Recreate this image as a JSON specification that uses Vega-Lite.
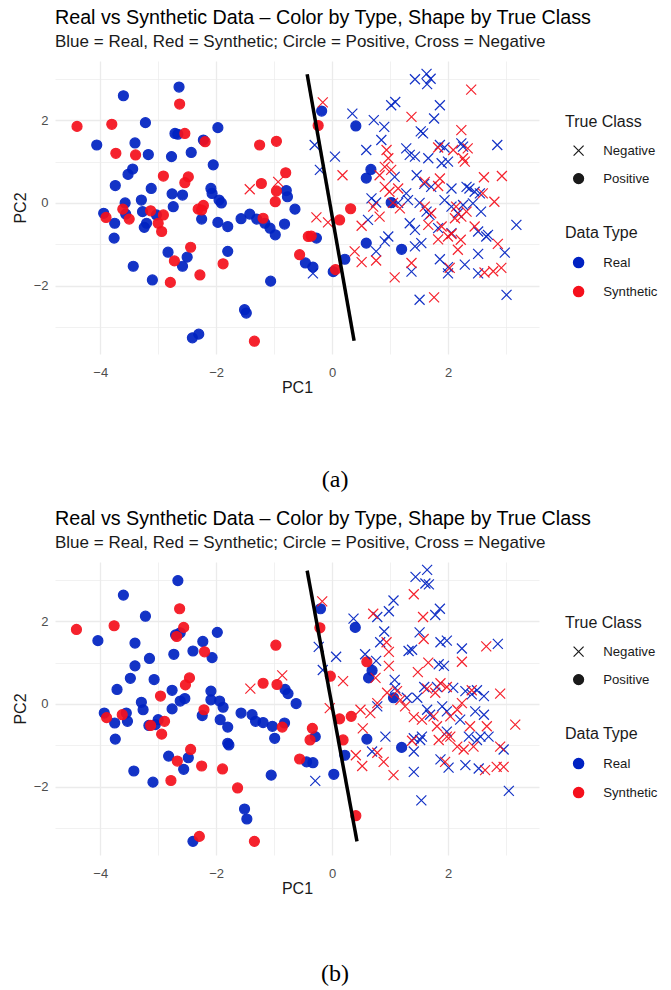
{
"$schema":"https://vega.github.io/schema/vega-lite/v6.json",
"padding":{"left":12,"top":8,"right":0,"bottom":0},
"config":{"view":{"stroke":null},"font":"Liberation Sans",
"axis":{"domain":false,"ticks":false,"format":".0f","labelFont":"Liberation Sans","labelFontSize":13,"labelColor":"#4d4d4d","titleFont":"Liberation Sans","titleFontSize":16,"titleFontWeight":"normal","titleColor":"#1a1a1a","gridColor":"#ebebeb"},
"axisX":{"labelPadding":12,"titlePadding":0},
"axisY":{"labelPadding":7,"titlePadding":5},
"legend":{"titleFont":"Liberation Sans","titleFontSize":16,"titleFontWeight":"normal","titleColor":"#1a1a1a","labelFont":"Liberation Sans","labelFontSize":13.2,"labelColor":"#1a1a1a"}},
"datasets":{
"a":[
{"x":-2.64,"y":2.8,"t":"Real","c":"Positive"},{"x":-3.6,"y":2.59,"t":"Real","c":"Positive"},{"x":-3.22,"y":1.94,"t":"Real","c":"Positive"},{"x":-4.06,"y":1.4,"t":"Real","c":"Positive"},{"x":-3.4,"y":1.45,"t":"Real","c":"Positive"},{"x":-3.17,"y":1.17,"t":"Real","c":"Positive"},{"x":-2.71,"y":1.68,"t":"Real","c":"Positive"},{"x":-2.66,"y":1.66,"t":"Real","c":"Positive"},{"x":-2.43,"y":1.22,"t":"Real","c":"Positive"},{"x":-2.77,"y":1.12,"t":"Real","c":"Positive"},{"x":-3.44,"y":0.82,"t":"Real","c":"Positive"},{"x":-3.52,"y":0.69,"t":"Real","c":"Positive"},{"x":-3.74,"y":0.42,"t":"Real","c":"Positive"},{"x":-3.12,"y":0.35,"t":"Real","c":"Positive"},{"x":-2.76,"y":0.22,"t":"Real","c":"Positive"},{"x":-2.58,"y":0.19,"t":"Real","c":"Positive"},{"x":-3.29,"y":0.07,"t":"Real","c":"Positive"},{"x":-3.57,"y":0.0,"t":"Real","c":"Positive"},{"x":-2.74,"y":-0.09,"t":"Real","c":"Positive"},{"x":-3.94,"y":-0.25,"t":"Real","c":"Positive"},{"x":-3.56,"y":-0.27,"t":"Real","c":"Positive"},{"x":-3.75,"y":-0.49,"t":"Real","c":"Positive"},{"x":-3.27,"y":-0.21,"t":"Real","c":"Positive"},{"x":-3.03,"y":-0.29,"t":"Real","c":"Positive"},{"x":-3.2,"y":-0.49,"t":"Real","c":"Positive"},{"x":-3.24,"y":-0.59,"t":"Real","c":"Positive"},{"x":-3.76,"y":-0.85,"t":"Real","c":"Positive"},
{"x":-0.18,"y":2.22,"t":"Real","c":"Positive"},{"x":0.41,"y":1.86,"t":"Real","c":"Positive"},{"x":-1.97,"y":1.82,"t":"Real","c":"Positive"},{"x":-2.22,"y":1.52,"t":"Real","c":"Positive"},{"x":-2.05,"y":0.92,"t":"Real","c":"Positive"},{"x":-0.79,"y":0.3,"t":"Real","c":"Positive"},{"x":-0.77,"y":0.15,"t":"Real","c":"Positive"},{"x":-0.64,"y":-0.15,"t":"Real","c":"Positive"},{"x":-2.09,"y":0.35,"t":"Real","c":"Positive"},{"x":-2.07,"y":0.23,"t":"Real","c":"Positive"},{"x":-1.95,"y":0.07,"t":"Real","c":"Positive"},{"x":-1.91,"y":0.0,"t":"Real","c":"Positive"},{"x":-2.25,"y":-0.39,"t":"Real","c":"Positive"},{"x":-1.97,"y":-0.47,"t":"Real","c":"Positive"},{"x":-1.8,"y":-0.57,"t":"Real","c":"Positive"},{"x":-1.57,"y":-0.38,"t":"Real","c":"Positive"},{"x":-1.42,"y":-0.27,"t":"Real","c":"Positive"},{"x":-1.3,"y":-0.39,"t":"Real","c":"Positive"},{"x":-1.16,"y":-0.49,"t":"Real","c":"Positive"},{"x":-1.07,"y":-0.61,"t":"Real","c":"Positive"},{"x":-0.98,"y":-0.77,"t":"Real","c":"Positive"},{"x":-0.82,"y":-0.51,"t":"Real","c":"Positive"},{"x":-0.27,"y":-0.85,"t":"Real","c":"Positive"},
{"x":0.67,"y":0.81,"t":"Real","c":"Positive"},{"x":0.59,"y":0.6,"t":"Real","c":"Positive"},{"x":1.02,"y":0.01,"t":"Real","c":"Positive"},{"x":-0.46,"y":-1.45,"t":"Real","c":"Positive"},{"x":-0.33,"y":-1.55,"t":"Real","c":"Positive"},{"x":0.02,"y":-1.66,"t":"Real","c":"Positive"},{"x":0.22,"y":-1.36,"t":"Real","c":"Positive"},{"x":0.59,"y":-0.97,"t":"Real","c":"Positive"},{"x":1.2,"y":-1.12,"t":"Real","c":"Positive"},
{"x":-2.83,"y":-1.19,"t":"Real","c":"Positive"},{"x":-2.5,"y":-1.31,"t":"Real","c":"Positive"},{"x":-2.58,"y":-1.53,"t":"Real","c":"Positive"},{"x":-1.8,"y":-1.17,"t":"Real","c":"Positive"},{"x":-3.43,"y":-1.53,"t":"Real","c":"Positive"},{"x":-3.1,"y":-1.86,"t":"Real","c":"Positive"},{"x":-1.06,"y":-1.89,"t":"Real","c":"Positive"},{"x":-1.51,"y":-2.58,"t":"Real","c":"Positive"},{"x":-1.48,"y":-2.66,"t":"Real","c":"Positive"},{"x":-2.41,"y":-3.26,"t":"Real","c":"Positive"},{"x":-2.3,"y":-3.17,"t":"Real","c":"Positive"},
{"x":-2.63,"y":2.39,"t":"Synthetic","c":"Positive"},{"x":-4.4,"y":1.85,"t":"Synthetic","c":"Positive"},{"x":-3.8,"y":1.9,"t":"Synthetic","c":"Positive"},{"x":-3.73,"y":1.2,"t":"Synthetic","c":"Positive"},{"x":-3.39,"y":1.16,"t":"Synthetic","c":"Positive"},{"x":-2.54,"y":1.68,"t":"Synthetic","c":"Positive"},{"x":-2.91,"y":0.65,"t":"Synthetic","c":"Positive"},{"x":-2.48,"y":0.63,"t":"Synthetic","c":"Positive"},{"x":-2.54,"y":0.49,"t":"Synthetic","c":"Positive"},{"x":-3.9,"y":-0.35,"t":"Synthetic","c":"Positive"},{"x":-3.61,"y":-0.15,"t":"Synthetic","c":"Positive"},{"x":-3.5,"y":-0.39,"t":"Synthetic","c":"Positive"},{"x":-3.13,"y":-0.19,"t":"Synthetic","c":"Positive"},{"x":-2.91,"y":-0.29,"t":"Synthetic","c":"Positive"},{"x":-3.0,"y":-0.49,"t":"Synthetic","c":"Positive"},{"x":-2.94,"y":-0.69,"t":"Synthetic","c":"Positive"},{"x":-2.31,"y":-0.15,"t":"Synthetic","c":"Positive"},
{"x":-0.24,"y":1.87,"t":"Synthetic","c":"Positive"},{"x":-2.19,"y":1.48,"t":"Synthetic","c":"Positive"},{"x":-1.25,"y":1.4,"t":"Synthetic","c":"Positive"},{"x":-0.96,"y":1.49,"t":"Synthetic","c":"Positive"},{"x":-0.8,"y":0.73,"t":"Synthetic","c":"Positive"},{"x":-1.22,"y":0.47,"t":"Synthetic","c":"Positive"},{"x":-0.96,"y":0.29,"t":"Synthetic","c":"Positive"},{"x":-0.98,"y":0.03,"t":"Synthetic","c":"Positive"},{"x":-2.22,"y":-0.06,"t":"Synthetic","c":"Positive"},{"x":-2.25,"y":-0.17,"t":"Synthetic","c":"Positive"},{"x":-1.19,"y":-0.37,"t":"Synthetic","c":"Positive"},{"x":0.32,"y":-0.14,"t":"Synthetic","c":"Positive"},{"x":0.13,"y":-0.41,"t":"Synthetic","c":"Positive"},{"x":-0.41,"y":-0.81,"t":"Synthetic","c":"Positive"},{"x":-0.36,"y":-0.8,"t":"Synthetic","c":"Positive"},{"x":-0.56,"y":-1.25,"t":"Synthetic","c":"Positive"},{"x":0.06,"y":-1.61,"t":"Synthetic","c":"Positive"},
{"x":-2.44,"y":-1.07,"t":"Synthetic","c":"Positive"},{"x":-2.72,"y":-1.4,"t":"Synthetic","c":"Positive"},{"x":-1.88,"y":-1.47,"t":"Synthetic","c":"Positive"},{"x":-2.79,"y":-1.92,"t":"Synthetic","c":"Positive"},{"x":-2.28,"y":-1.74,"t":"Synthetic","c":"Positive"},{"x":-1.34,"y":-3.34,"t":"Synthetic","c":"Positive"},
{"x":0.35,"y":2.16,"t":"Real","c":"Negative"},{"x":-0.3,"y":1.4,"t":"Real","c":"Negative"},{"x":0.05,"y":1.12,"t":"Real","c":"Negative"},{"x":-0.21,"y":0.8,"t":"Real","c":"Negative"},{"x":1.43,"y":2.99,"t":"Real","c":"Negative"},{"x":1.63,"y":3.12,"t":"Real","c":"Negative"},{"x":1.7,"y":3.0,"t":"Real","c":"Negative"},{"x":1.64,"y":2.87,"t":"Real","c":"Negative"},{"x":1.02,"y":2.36,"t":"Real","c":"Negative"},{"x":1.09,"y":2.44,"t":"Real","c":"Negative"},{"x":1.86,"y":2.36,"t":"Real","c":"Negative"},{"x":0.72,"y":2.0,"t":"Real","c":"Negative"},{"x":0.9,"y":1.84,"t":"Real","c":"Negative"},{"x":1.76,"y":2.04,"t":"Real","c":"Negative"},{"x":1.53,"y":1.73,"t":"Real","c":"Negative"},{"x":1.57,"y":1.68,"t":"Real","c":"Negative"},{"x":0.85,"y":1.52,"t":"Real","c":"Negative"},{"x":2.85,"y":1.4,"t":"Real","c":"Negative"},{"x":0.59,"y":1.28,"t":"Real","c":"Negative"},{"x":1.28,"y":1.32,"t":"Real","c":"Negative"},{"x":1.34,"y":1.16,"t":"Real","c":"Negative"},{"x":1.43,"y":1.12,"t":"Real","c":"Negative"},{"x":1.66,"y":1.08,"t":"Real","c":"Negative"},{"x":1.86,"y":1.4,"t":"Real","c":"Negative"},{"x":1.94,"y":1.34,"t":"Real","c":"Negative"},{"x":2.23,"y":1.44,"t":"Real","c":"Negative"},{"x":2.26,"y":1.36,"t":"Real","c":"Negative"},{"x":1.89,"y":0.96,"t":"Real","c":"Negative"},{"x":2.0,"y":1.0,"t":"Real","c":"Negative"},{"x":1.08,"y":0.63,"t":"Real","c":"Negative"},{"x":1.46,"y":0.67,"t":"Real","c":"Negative"},{"x":1.59,"y":0.46,"t":"Real","c":"Negative"},{"x":1.71,"y":0.39,"t":"Real","c":"Negative"},{"x":2.06,"y":0.35,"t":"Real","c":"Negative"},{"x":2.32,"y":0.39,"t":"Real","c":"Negative"},{"x":2.37,"y":0.35,"t":"Real","c":"Negative"},{"x":2.46,"y":0.27,"t":"Real","c":"Negative"},{"x":2.55,"y":0.23,"t":"Real","c":"Negative"},{"x":0.68,"y":0.11,"t":"Real","c":"Negative"},{"x":0.76,"y":0.01,"t":"Real","c":"Negative"},{"x":1.28,"y":0.23,"t":"Real","c":"Negative"},{"x":1.31,"y":0.07,"t":"Real","c":"Negative"},{"x":1.14,"y":0.0,"t":"Real","c":"Negative"},{"x":1.51,"y":0.0,"t":"Real","c":"Negative"},{"x":1.63,"y":-0.21,"t":"Real","c":"Negative"},{"x":1.68,"y":-0.29,"t":"Real","c":"Negative"},{"x":1.94,"y":0.07,"t":"Real","c":"Negative"},{"x":2.06,"y":-0.09,"t":"Real","c":"Negative"},{"x":2.17,"y":-0.25,"t":"Real","c":"Negative"},{"x":2.26,"y":-0.05,"t":"Real","c":"Negative"},{"x":2.43,"y":-0.01,"t":"Real","c":"Negative"},{"x":2.57,"y":-0.21,"t":"Real","c":"Negative"},{"x":3.18,"y":-0.53,"t":"Real","c":"Negative"},{"x":0.62,"y":-0.41,"t":"Real","c":"Negative"},{"x":0.97,"y":-0.81,"t":"Real","c":"Negative"},{"x":1.34,"y":-0.49,"t":"Real","c":"Negative"},{"x":1.43,"y":-0.65,"t":"Real","c":"Negative"},{"x":1.83,"y":-0.61,"t":"Real","c":"Negative"},{"x":2.06,"y":-0.73,"t":"Real","c":"Negative"},{"x":2.52,"y":-0.69,"t":"Real","c":"Negative"},{"x":2.69,"y":-0.77,"t":"Real","c":"Negative"},
{"x":-0.33,"y":-1.7,"t":"Real","c":"Negative"},{"x":0.91,"y":-0.93,"t":"Real","c":"Negative"},{"x":0.76,"y":-1.17,"t":"Real","c":"Negative"},{"x":1.43,"y":-1.05,"t":"Real","c":"Negative"},{"x":1.54,"y":-0.97,"t":"Real","c":"Negative"},{"x":1.37,"y":-1.66,"t":"Real","c":"Negative"},{"x":1.51,"y":-2.34,"t":"Real","c":"Negative"},{"x":1.86,"y":-1.36,"t":"Real","c":"Negative"},{"x":2.0,"y":-1.55,"t":"Real","c":"Negative"},{"x":2.0,"y":-1.7,"t":"Real","c":"Negative"},{"x":2.29,"y":-1.49,"t":"Real","c":"Negative"},{"x":2.52,"y":-1.23,"t":"Real","c":"Negative"},{"x":2.52,"y":-1.7,"t":"Real","c":"Negative"},{"x":2.98,"y":-1.2,"t":"Real","c":"Negative"},{"x":2.66,"y":-0.81,"t":"Real","c":"Negative"},{"x":3.01,"y":-2.22,"t":"Real","c":"Negative"},
{"x":-0.16,"y":2.43,"t":"Synthetic","c":"Negative"},{"x":0.18,"y":0.67,"t":"Synthetic","c":"Negative"},{"x":-1.42,"y":0.33,"t":"Synthetic","c":"Negative"},{"x":-0.93,"y":0.51,"t":"Synthetic","c":"Negative"},{"x":-0.27,"y":-0.35,"t":"Synthetic","c":"Negative"},{"x":-0.07,"y":-0.47,"t":"Synthetic","c":"Negative"},{"x":2.4,"y":2.74,"t":"Synthetic","c":"Negative"},{"x":1.37,"y":2.08,"t":"Synthetic","c":"Negative"},{"x":2.23,"y":1.76,"t":"Synthetic","c":"Negative"},{"x":0.94,"y":1.28,"t":"Synthetic","c":"Negative"},{"x":0.97,"y":1.08,"t":"Synthetic","c":"Negative"},{"x":1.83,"y":1.34,"t":"Synthetic","c":"Negative"},{"x":2.09,"y":1.28,"t":"Synthetic","c":"Negative"},{"x":2.34,"y":1.32,"t":"Synthetic","c":"Negative"},{"x":2.26,"y":1.08,"t":"Synthetic","c":"Negative"},{"x":2.29,"y":1.0,"t":"Synthetic","c":"Negative"},{"x":2.93,"y":0.65,"t":"Synthetic","c":"Negative"},{"x":2.62,"y":0.62,"t":"Synthetic","c":"Negative"},{"x":0.91,"y":0.87,"t":"Synthetic","c":"Negative"},{"x":0.82,"y":0.67,"t":"Synthetic","c":"Negative"},{"x":1.02,"y":0.8,"t":"Synthetic","c":"Negative"},{"x":0.91,"y":0.39,"t":"Synthetic","c":"Negative"},{"x":0.99,"y":0.27,"t":"Synthetic","c":"Negative"},{"x":1.14,"y":0.35,"t":"Synthetic","c":"Negative"},{"x":1.6,"y":0.51,"t":"Synthetic","c":"Negative"},{"x":1.86,"y":0.59,"t":"Synthetic","c":"Negative"},{"x":1.83,"y":0.41,"t":"Synthetic","c":"Negative"},{"x":2.6,"y":0.23,"t":"Synthetic","c":"Negative"},{"x":2.8,"y":0.03,"t":"Synthetic","c":"Negative"},{"x":0.71,"y":-0.09,"t":"Synthetic","c":"Negative"},{"x":1.05,"y":0.0,"t":"Synthetic","c":"Negative"},{"x":1.17,"y":-0.13,"t":"Synthetic","c":"Negative"},{"x":1.6,"y":-0.09,"t":"Synthetic","c":"Negative"},{"x":1.71,"y":-0.25,"t":"Synthetic","c":"Negative"},{"x":2.14,"y":-0.09,"t":"Synthetic","c":"Negative"},{"x":2.23,"y":-0.33,"t":"Synthetic","c":"Negative"},{"x":2.32,"y":-0.21,"t":"Synthetic","c":"Negative"},{"x":0.51,"y":-0.55,"t":"Synthetic","c":"Negative"},{"x":0.82,"y":-0.33,"t":"Synthetic","c":"Negative"},{"x":1.66,"y":-0.53,"t":"Synthetic","c":"Negative"},{"x":1.89,"y":-0.57,"t":"Synthetic","c":"Negative"},{"x":2.0,"y":-0.81,"t":"Synthetic","c":"Negative"},{"x":2.12,"y":-0.37,"t":"Synthetic","c":"Negative"},{"x":2.46,"y":-0.57,"t":"Synthetic","c":"Negative"},
{"x":0.39,"y":-1.17,"t":"Synthetic","c":"Negative"},{"x":0.51,"y":-1.43,"t":"Synthetic","c":"Negative"},{"x":0.76,"y":-1.39,"t":"Synthetic","c":"Negative"},{"x":1.08,"y":-1.8,"t":"Synthetic","c":"Negative"},{"x":1.37,"y":-1.45,"t":"Synthetic","c":"Negative"},{"x":1.76,"y":-2.28,"t":"Synthetic","c":"Negative"},{"x":1.83,"y":-0.88,"t":"Synthetic","c":"Negative"},{"x":2.06,"y":-0.75,"t":"Synthetic","c":"Negative"},{"x":2.17,"y":-1.13,"t":"Synthetic","c":"Negative"},{"x":2.22,"y":-0.89,"t":"Synthetic","c":"Negative"},{"x":2.03,"y":-1.57,"t":"Synthetic","c":"Negative"},{"x":2.63,"y":-1.68,"t":"Synthetic","c":"Negative"},{"x":2.78,"y":-1.65,"t":"Synthetic","c":"Negative"},{"x":2.92,"y":-1.57,"t":"Synthetic","c":"Negative"},{"x":2.86,"y":-0.99,"t":"Synthetic","c":"Negative"}
],
"b":[
{"x":-2.66,"y":2.98,"t":"Real","c":"Positive"},{"x":-3.6,"y":2.63,"t":"Real","c":"Positive"},{"x":-3.22,"y":2.12,"t":"Real","c":"Positive"},{"x":-4.04,"y":1.53,"t":"Real","c":"Positive"},{"x":-3.4,"y":1.47,"t":"Real","c":"Positive"},{"x":-2.7,"y":1.67,"t":"Real","c":"Positive"},{"x":-2.62,"y":1.72,"t":"Real","c":"Positive"},{"x":-2.4,"y":1.28,"t":"Real","c":"Positive"},{"x":-2.73,"y":1.2,"t":"Real","c":"Positive"},{"x":-3.15,"y":1.1,"t":"Real","c":"Positive"},{"x":-3.4,"y":0.92,"t":"Real","c":"Positive"},{"x":-3.48,"y":0.62,"t":"Real","c":"Positive"},{"x":-3.07,"y":0.59,"t":"Real","c":"Positive"},{"x":-3.71,"y":0.35,"t":"Real","c":"Positive"},{"x":-2.76,"y":0.33,"t":"Real","c":"Positive"},{"x":-3.29,"y":0.04,"t":"Real","c":"Positive"},{"x":-3.26,"y":-0.14,"t":"Real","c":"Positive"},{"x":-2.62,"y":0.07,"t":"Real","c":"Positive"},{"x":-2.54,"y":0.13,"t":"Real","c":"Positive"},{"x":-2.76,"y":-0.12,"t":"Real","c":"Positive"},{"x":-3.93,"y":-0.22,"t":"Real","c":"Positive"},{"x":-3.75,"y":-0.46,"t":"Real","c":"Positive"},{"x":-3.55,"y":-0.22,"t":"Real","c":"Positive"},{"x":-3.53,"y":-0.42,"t":"Real","c":"Positive"},{"x":-3.16,"y":-0.52,"t":"Real","c":"Positive"},{"x":-3.05,"y":-0.5,"t":"Real","c":"Positive"},{"x":-3.0,"y":-0.38,"t":"Real","c":"Positive"},{"x":-3.74,"y":-0.85,"t":"Real","c":"Positive"},
{"x":-0.2,"y":2.3,"t":"Real","c":"Positive"},{"x":0.4,"y":1.85,"t":"Real","c":"Positive"},{"x":-1.98,"y":1.73,"t":"Real","c":"Positive"},{"x":-2.23,"y":1.51,"t":"Real","c":"Positive"},{"x":-2.07,"y":1.12,"t":"Real","c":"Positive"},{"x":-0.81,"y":0.35,"t":"Real","c":"Positive"},{"x":-0.76,"y":0.25,"t":"Real","c":"Positive"},{"x":-0.62,"y":0.01,"t":"Real","c":"Positive"},{"x":-2.09,"y":0.31,"t":"Real","c":"Positive"},{"x":-2.09,"y":0.1,"t":"Real","c":"Positive"},{"x":-1.94,"y":0.07,"t":"Real","c":"Positive"},{"x":-1.88,"y":-0.08,"t":"Real","c":"Positive"},{"x":-2.24,"y":-0.28,"t":"Real","c":"Positive"},{"x":-1.93,"y":-0.38,"t":"Real","c":"Positive"},{"x":-1.8,"y":-0.56,"t":"Real","c":"Positive"},{"x":-1.57,"y":-0.22,"t":"Real","c":"Positive"},{"x":-1.38,"y":-0.26,"t":"Real","c":"Positive"},{"x":-1.32,"y":-0.42,"t":"Real","c":"Positive"},{"x":-1.19,"y":-0.45,"t":"Real","c":"Positive"},{"x":-1.03,"y":-0.54,"t":"Real","c":"Positive"},{"x":-0.99,"y":-0.83,"t":"Real","c":"Positive"},{"x":-0.82,"y":-0.46,"t":"Real","c":"Positive"},{"x":-0.29,"y":-0.79,"t":"Real","c":"Positive"},{"x":-1.8,"y":-0.95,"t":"Real","c":"Positive"},
{"x":0.69,"y":0.81,"t":"Real","c":"Positive"},{"x":0.63,"y":0.63,"t":"Real","c":"Positive"},{"x":1.06,"y":0.15,"t":"Real","c":"Positive"},{"x":0.6,"y":-0.85,"t":"Real","c":"Positive"},{"x":0.22,"y":-1.24,"t":"Real","c":"Positive"},{"x":-0.44,"y":-1.4,"t":"Real","c":"Positive"},{"x":-0.33,"y":-1.42,"t":"Real","c":"Positive"},{"x":0.03,"y":-1.7,"t":"Real","c":"Positive"},{"x":1.2,"y":-1.05,"t":"Real","c":"Positive"},
{"x":-1.78,"y":-0.99,"t":"Real","c":"Positive"},{"x":-2.82,"y":-1.26,"t":"Real","c":"Positive"},{"x":-2.48,"y":-1.3,"t":"Real","c":"Positive"},{"x":-2.56,"y":-1.58,"t":"Real","c":"Positive"},{"x":-3.42,"y":-1.62,"t":"Real","c":"Positive"},{"x":-3.09,"y":-1.89,"t":"Real","c":"Positive"},{"x":-1.05,"y":-1.72,"t":"Real","c":"Positive"},{"x":-1.51,"y":-2.54,"t":"Real","c":"Positive"},{"x":-1.47,"y":-2.78,"t":"Real","c":"Positive"},{"x":-2.4,"y":-3.32,"t":"Real","c":"Positive"},
{"x":-2.63,"y":2.3,"t":"Synthetic","c":"Positive"},{"x":-4.41,"y":1.8,"t":"Synthetic","c":"Positive"},{"x":-3.76,"y":1.89,"t":"Synthetic","c":"Positive"},{"x":-2.56,"y":1.85,"t":"Synthetic","c":"Positive"},{"x":-2.68,"y":1.63,"t":"Synthetic","c":"Positive"},{"x":-2.46,"y":0.63,"t":"Synthetic","c":"Positive"},{"x":-2.53,"y":0.46,"t":"Synthetic","c":"Positive"},{"x":-2.96,"y":0.19,"t":"Synthetic","c":"Positive"},{"x":-3.89,"y":-0.33,"t":"Synthetic","c":"Positive"},{"x":-3.62,"y":-0.26,"t":"Synthetic","c":"Positive"},{"x":-3.13,"y":-0.52,"t":"Synthetic","c":"Positive"},{"x":-2.89,"y":-0.42,"t":"Synthetic","c":"Positive"},{"x":-2.94,"y":-0.73,"t":"Synthetic","c":"Positive"},
{"x":-0.21,"y":1.84,"t":"Synthetic","c":"Positive"},{"x":-2.2,"y":1.26,"t":"Synthetic","c":"Positive"},{"x":-0.97,"y":1.42,"t":"Synthetic","c":"Positive"},{"x":-0.03,"y":0.67,"t":"Synthetic","c":"Positive"},{"x":-1.19,"y":0.5,"t":"Synthetic","c":"Positive"},{"x":-0.95,"y":0.47,"t":"Synthetic","c":"Positive"},{"x":-2.21,"y":-0.14,"t":"Synthetic","c":"Positive"},{"x":-0.86,"y":-0.56,"t":"Synthetic","c":"Positive"},{"x":0.13,"y":-0.36,"t":"Synthetic","c":"Positive"},{"x":0.33,"y":-0.3,"t":"Synthetic","c":"Positive"},{"x":-0.34,"y":-0.59,"t":"Synthetic","c":"Positive"},{"x":-0.38,"y":-0.87,"t":"Synthetic","c":"Positive"},{"x":0.19,"y":-0.87,"t":"Synthetic","c":"Positive"},{"x":0.6,"y":1.02,"t":"Synthetic","c":"Positive"},{"x":-0.56,"y":-1.33,"t":"Synthetic","c":"Positive"},{"x":0.41,"y":-2.7,"t":"Synthetic","c":"Positive"},
{"x":-2.44,"y":-1.1,"t":"Synthetic","c":"Positive"},{"x":-2.67,"y":-1.38,"t":"Synthetic","c":"Positive"},{"x":-2.25,"y":-1.5,"t":"Synthetic","c":"Positive"},{"x":-1.89,"y":-1.57,"t":"Synthetic","c":"Positive"},{"x":-2.78,"y":-1.85,"t":"Synthetic","c":"Positive"},{"x":-1.63,"y":-2.03,"t":"Synthetic","c":"Positive"},{"x":-2.29,"y":-3.2,"t":"Synthetic","c":"Positive"},{"x":-1.34,"y":-3.32,"t":"Synthetic","c":"Positive"},
{"x":0.37,"y":2.06,"t":"Real","c":"Negative"},{"x":-0.23,"y":1.38,"t":"Real","c":"Negative"},{"x":0.07,"y":1.14,"t":"Real","c":"Negative"},{"x":-0.16,"y":0.82,"t":"Real","c":"Negative"},{"x":1.44,"y":3.07,"t":"Real","c":"Negative"},{"x":1.64,"y":3.24,"t":"Real","c":"Negative"},{"x":1.67,"y":2.89,"t":"Real","c":"Negative"},{"x":1.61,"y":2.91,"t":"Real","c":"Negative"},{"x":1.06,"y":2.5,"t":"Real","c":"Negative"},{"x":0.98,"y":2.24,"t":"Real","c":"Negative"},{"x":0.78,"y":2.1,"t":"Real","c":"Negative"},{"x":1.86,"y":2.3,"t":"Real","c":"Negative"},{"x":1.78,"y":2.15,"t":"Real","c":"Negative"},{"x":0.9,"y":1.75,"t":"Real","c":"Negative"},{"x":1.51,"y":1.73,"t":"Real","c":"Negative"},{"x":0.83,"y":1.49,"t":"Real","c":"Negative"},{"x":1.38,"y":1.31,"t":"Real","c":"Negative"},{"x":1.32,"y":1.28,"t":"Real","c":"Negative"},{"x":1.87,"y":1.49,"t":"Real","c":"Negative"},{"x":1.98,"y":1.53,"t":"Real","c":"Negative"},{"x":2.24,"y":1.34,"t":"Real","c":"Negative"},{"x":2.86,"y":1.45,"t":"Real","c":"Negative"},{"x":1.84,"y":0.96,"t":"Real","c":"Negative"},{"x":1.93,"y":0.92,"t":"Real","c":"Negative"},{"x":0.57,"y":1.2,"t":"Real","c":"Negative"},{"x":0.76,"y":1.04,"t":"Real","c":"Negative"},{"x":1.08,"y":0.58,"t":"Real","c":"Negative"},{"x":1.09,"y":0.39,"t":"Real","c":"Negative"},{"x":1.29,"y":0.15,"t":"Real","c":"Negative"},{"x":1.59,"y":0.41,"t":"Real","c":"Negative"},{"x":1.81,"y":0.41,"t":"Real","c":"Negative"},{"x":2.09,"y":0.39,"t":"Real","c":"Negative"},{"x":2.3,"y":0.31,"t":"Real","c":"Negative"},{"x":2.41,"y":0.23,"t":"Real","c":"Negative"},{"x":2.5,"y":0.33,"t":"Real","c":"Negative"},{"x":2.62,"y":0.19,"t":"Real","c":"Negative"},{"x":1.47,"y":0.15,"t":"Real","c":"Negative"},{"x":1.64,"y":-0.14,"t":"Real","c":"Negative"},{"x":1.69,"y":-0.26,"t":"Real","c":"Negative"},{"x":1.9,"y":-0.06,"t":"Real","c":"Negative"},{"x":1.98,"y":-0.18,"t":"Real","c":"Negative"},{"x":2.21,"y":-0.38,"t":"Real","c":"Negative"},{"x":2.47,"y":-0.18,"t":"Real","c":"Negative"},{"x":2.62,"y":-0.26,"t":"Real","c":"Negative"},{"x":0.78,"y":-0.06,"t":"Real","c":"Negative"},{"x":0.92,"y":-0.79,"t":"Real","c":"Negative"},{"x":1.41,"y":-0.83,"t":"Real","c":"Negative"},{"x":1.55,"y":-0.79,"t":"Real","c":"Negative"},{"x":1.98,"y":-0.67,"t":"Real","c":"Negative"},{"x":2.36,"y":-0.79,"t":"Real","c":"Negative"},{"x":2.56,"y":-0.79,"t":"Real","c":"Negative"},
{"x":-0.29,"y":-1.86,"t":"Real","c":"Negative"},{"x":0.69,"y":-1.15,"t":"Real","c":"Negative"},{"x":1.41,"y":-1.15,"t":"Real","c":"Negative"},{"x":1.41,"y":-1.64,"t":"Real","c":"Negative"},{"x":1.52,"y":-0.87,"t":"Real","c":"Negative"},{"x":1.54,"y":-2.33,"t":"Real","c":"Negative"},{"x":1.87,"y":-1.34,"t":"Real","c":"Negative"},{"x":2.01,"y":-1.54,"t":"Real","c":"Negative"},{"x":2.3,"y":-1.48,"t":"Real","c":"Negative"},{"x":2.53,"y":-1.56,"t":"Real","c":"Negative"},{"x":2.5,"y":-0.87,"t":"Real","c":"Negative"},{"x":2.7,"y":-0.79,"t":"Real","c":"Negative"},{"x":2.96,"y":-1.1,"t":"Real","c":"Negative"},{"x":3.05,"y":-2.1,"t":"Real","c":"Negative"},
{"x":-0.17,"y":2.48,"t":"Synthetic","c":"Negative"},{"x":0.19,"y":0.55,"t":"Synthetic","c":"Negative"},{"x":-0.86,"y":0.69,"t":"Synthetic","c":"Negative"},{"x":-1.41,"y":0.37,"t":"Synthetic","c":"Negative"},{"x":-0.04,"y":-0.1,"t":"Synthetic","c":"Negative"},{"x":1.41,"y":2.65,"t":"Synthetic","c":"Negative"},{"x":0.71,"y":2.18,"t":"Synthetic","c":"Negative"},{"x":1.57,"y":2.1,"t":"Synthetic","c":"Negative"},{"x":1.58,"y":1.57,"t":"Synthetic","c":"Negative"},{"x":0.94,"y":1.49,"t":"Synthetic","c":"Negative"},{"x":0.98,"y":1.26,"t":"Synthetic","c":"Negative"},{"x":2.66,"y":1.39,"t":"Synthetic","c":"Negative"},{"x":2.24,"y":1.02,"t":"Synthetic","c":"Negative"},{"x":1.66,"y":1.0,"t":"Synthetic","c":"Negative"},{"x":1.48,"y":0.77,"t":"Synthetic","c":"Negative"},{"x":0.98,"y":0.92,"t":"Synthetic","c":"Negative"},{"x":0.75,"y":0.63,"t":"Synthetic","c":"Negative"},{"x":1.12,"y":0.31,"t":"Synthetic","c":"Negative"},{"x":0.95,"y":0.27,"t":"Synthetic","c":"Negative"},{"x":1.18,"y":0.1,"t":"Synthetic","c":"Negative"},{"x":1.26,"y":-0.06,"t":"Synthetic","c":"Negative"},{"x":1.64,"y":0.37,"t":"Synthetic","c":"Negative"},{"x":1.78,"y":0.27,"t":"Synthetic","c":"Negative"},{"x":1.87,"y":0.5,"t":"Synthetic","c":"Negative"},{"x":1.98,"y":0.41,"t":"Synthetic","c":"Negative"},{"x":2.41,"y":0.33,"t":"Synthetic","c":"Negative"},{"x":2.9,"y":0.25,"t":"Synthetic","c":"Negative"},{"x":2.24,"y":0.02,"t":"Synthetic","c":"Negative"},{"x":1.41,"y":-0.32,"t":"Synthetic","c":"Negative"},{"x":1.55,"y":-0.38,"t":"Synthetic","c":"Negative"},{"x":1.75,"y":-0.3,"t":"Synthetic","c":"Negative"},{"x":2.04,"y":-0.3,"t":"Synthetic","c":"Negative"},{"x":2.16,"y":-0.14,"t":"Synthetic","c":"Negative"},{"x":2.38,"y":-0.54,"t":"Synthetic","c":"Negative"},{"x":2.67,"y":-0.54,"t":"Synthetic","c":"Negative"},{"x":3.16,"y":-0.5,"t":"Synthetic","c":"Negative"},{"x":0.53,"y":-0.59,"t":"Synthetic","c":"Negative"},{"x":0.66,"y":-0.22,"t":"Synthetic","c":"Negative"},{"x":0.78,"y":0.02,"t":"Synthetic","c":"Negative"},{"x":0.49,"y":-0.14,"t":"Synthetic","c":"Negative"},{"x":1.81,"y":-0.54,"t":"Synthetic","c":"Negative"},{"x":1.98,"y":-0.79,"t":"Synthetic","c":"Negative"},
{"x":0.41,"y":-1.24,"t":"Synthetic","c":"Negative"},{"x":0.52,"y":-1.5,"t":"Synthetic","c":"Negative"},{"x":0.78,"y":-1.18,"t":"Synthetic","c":"Negative"},{"x":0.89,"y":-1.4,"t":"Synthetic","c":"Negative"},{"x":1.06,"y":-1.72,"t":"Synthetic","c":"Negative"},{"x":1.38,"y":-0.89,"t":"Synthetic","c":"Negative"},{"x":1.84,"y":-0.87,"t":"Synthetic","c":"Negative"},{"x":2.04,"y":-0.79,"t":"Synthetic","c":"Negative"},{"x":2.16,"y":-1.03,"t":"Synthetic","c":"Negative"},{"x":2.27,"y":-1.1,"t":"Synthetic","c":"Negative"},{"x":2.44,"y":-1.03,"t":"Synthetic","c":"Negative"},{"x":2.9,"y":-1.03,"t":"Synthetic","c":"Negative"},{"x":1.95,"y":-1.4,"t":"Synthetic","c":"Negative"},{"x":2.64,"y":-1.6,"t":"Synthetic","c":"Negative"},{"x":2.84,"y":-1.52,"t":"Synthetic","c":"Negative"},{"x":2.96,"y":-1.52,"t":"Synthetic","c":"Negative"}
],
"la":[{"x":-0.43,"y":3.11},{"x":0.38,"y":-3.33}],
"lb":[{"x":-0.43,"y":3.22},{"x":0.43,"y":-3.32}]
},
"spacing":17,
"vconcat":[
{"title":{"text":"(a)","orient":"bottom","anchor":"middle","frame":"bounds","font":"Liberation Serif","fontSize":24,"fontWeight":"normal","color":"#000000","offset":73},
"vconcat":[{"width":484,"height":293,
"title":{"text":"Real vs Synthetic Data – Color by Type, Shape by True Class","subtitle":"Blue = Real, Red = Synthetic; Circle = Positive, Cross = Negative","anchor":"start","frame":"group","font":"Liberation Sans","subtitleFont":"Liberation Sans","fontSize":19.7,"fontWeight":"normal","subtitleFontSize":17,"subtitlePadding":6,"offset":11,"color":"#000000","subtitleColor":"#1a1a1a"},
"layer":[
{"data":{"name":"a"},"mark":{"type":"point","filled":true,"size":100,"opacity":0.92,"strokeWidth":1.2},
"encoding":{
"x":{"field":"x","type":"quantitative","title":"PC1","scale":{"domain":[-4.78,3.57],"nice":false,"zero":false},"axis":{"values":[-4,-3,-2,-1,0,1,2,3],"labelExpr":"datum.value % 2 === 0 ? datum.label : ''","gridWidth":{"condition":{"test":"datum.value % 2 === 0","value":1.3},"value":0.7}}},
"y":{"field":"y","type":"quantitative","title":"PC2","scale":{"domain":[-3.65,3.43],"nice":false,"zero":false},"axis":{"values":[-3,-2,-1,0,1,2,3],"labelExpr":"datum.value % 2 === 0 ? datum.label : ''","gridWidth":{"condition":{"test":"datum.value % 2 === 0","value":1.3},"value":0.7}}},
"color":{"field":"t","type":"nominal","scale":{"domain":["Real","Synthetic"],"range":["#0022c2","#f5101c"]},"legend":{"title":"Data Type","orient":"none","legendX":510,"legendY":164,"symbolType":"circle","symbolOffset":7,"labelOffset":18,"titlePadding":15,"rowPadding":12,"symbolOpacity":1}},
"stroke":{"field":"t","type":"nominal","scale":{"domain":["Real","Synthetic"],"range":["#0022c2","#f5101c"]},"legend":null},
"shape":{"field":"c","type":"nominal","scale":{"domain":["Negative","Positive"],"range":["M-1,-1L1,1M1,-1L-1,1","circle"]},"legend":{"title":"True Class","orient":"none","legendX":510,"legendY":53,"symbolOffset":7,"labelOffset":18,"titlePadding":14,"rowPadding":13,"symbolFillColor":"#1a1a1a","symbolStrokeColor":"#1a1a1a","symbolStrokeWidth":1.2,"symbolOpacity":1}}
}},
{"data":{"name":"la"},"mark":{"type":"line","color":"#000000","strokeWidth":3.5},
"encoding":{"x":{"field":"x","type":"quantitative","scale":{"domain":[-4.78,3.57],"nice":false,"zero":false}},"y":{"field":"y","type":"quantitative","scale":{"domain":[-3.65,3.43],"nice":false,"zero":false}}}}
]}]},
{"title":{"text":"(b)","orient":"bottom","anchor":"middle","frame":"bounds","font":"Liberation Serif","fontSize":24,"fontWeight":"normal","color":"#000000","offset":66},
"vconcat":[{"width":484,"height":293,
"title":{"text":"Real vs Synthetic Data – Color by Type, Shape by True Class","subtitle":"Blue = Real, Red = Synthetic; Circle = Positive, Cross = Negative","anchor":"start","frame":"group","font":"Liberation Sans","subtitleFont":"Liberation Sans","fontSize":19.7,"fontWeight":"normal","subtitleFontSize":17,"subtitlePadding":6,"offset":11,"color":"#000000","subtitleColor":"#1a1a1a"},
"layer":[
{"data":{"name":"b"},"mark":{"type":"point","filled":true,"size":100,"opacity":0.92,"strokeWidth":1.2},
"encoding":{
"x":{"field":"x","type":"quantitative","title":"PC1","scale":{"domain":[-4.78,3.57],"nice":false,"zero":false},"axis":{"values":[-4,-3,-2,-1,0,1,2,3],"labelExpr":"datum.value % 2 === 0 ? datum.label : ''","gridWidth":{"condition":{"test":"datum.value % 2 === 0","value":1.3},"value":0.7}}},
"y":{"field":"y","type":"quantitative","title":"PC2","scale":{"domain":[-3.65,3.43],"nice":false,"zero":false},"axis":{"values":[-3,-2,-1,0,1,2,3],"labelExpr":"datum.value % 2 === 0 ? datum.label : ''","gridWidth":{"condition":{"test":"datum.value % 2 === 0","value":1.3},"value":0.7}}},
"color":{"field":"t","type":"nominal","scale":{"domain":["Real","Synthetic"],"range":["#0022c2","#f5101c"]},"legend":{"title":"Data Type","orient":"none","legendX":510,"legendY":164,"symbolType":"circle","symbolOffset":7,"labelOffset":18,"titlePadding":15,"rowPadding":12,"symbolOpacity":1}},
"stroke":{"field":"t","type":"nominal","scale":{"domain":["Real","Synthetic"],"range":["#0022c2","#f5101c"]},"legend":null},
"shape":{"field":"c","type":"nominal","scale":{"domain":["Negative","Positive"],"range":["M-1,-1L1,1M1,-1L-1,1","circle"]},"legend":{"title":"True Class","orient":"none","legendX":510,"legendY":53,"symbolOffset":7,"labelOffset":18,"titlePadding":14,"rowPadding":13,"symbolFillColor":"#1a1a1a","symbolStrokeColor":"#1a1a1a","symbolStrokeWidth":1.2,"symbolOpacity":1}}
}},
{"data":{"name":"lb"},"mark":{"type":"line","color":"#000000","strokeWidth":3.5},
"encoding":{"x":{"field":"x","type":"quantitative","scale":{"domain":[-4.78,3.57],"nice":false,"zero":false}},"y":{"field":"y","type":"quantitative","scale":{"domain":[-3.65,3.43],"nice":false,"zero":false}}}}
]}]}
],
"resolve":{"scale":{"color":"independent","shape":"independent","stroke":"independent","x":"independent","y":"independent"},"legend":{"color":"independent","shape":"independent"}}
}
